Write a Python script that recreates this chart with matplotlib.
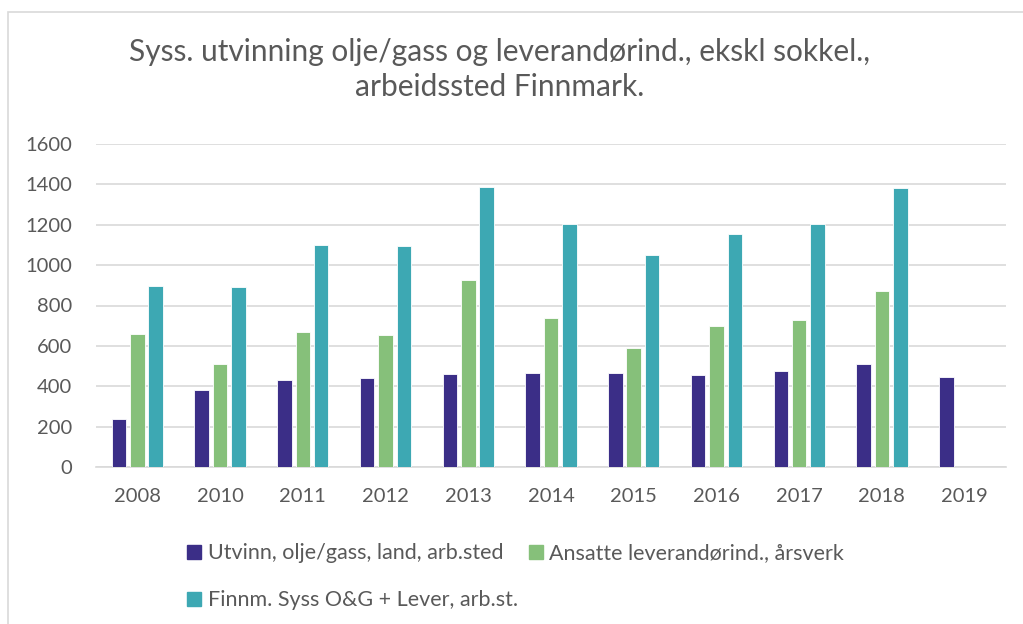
import numpy as np
import matplotlib.pyplot as plt
from matplotlib.patches import Rectangle, Patch

plt.rcParams['font.family'] = ['Lato', 'DejaVu Sans']

years = ['2008', '2010', '2011', '2012', '2013', '2014', '2015', '2016', '2017', '2018', '2019']
utvinn = [238, 380, 431, 443, 463, 468, 464, 458, 478, 509, 448]
ansatte = [658, 511, 668, 655, 926, 737, 587, 696, 727, 873, np.nan]
finnm = [896, 891, 1099, 1096, 1388, 1205, 1051, 1152, 1205, 1380, np.nan]

labels = ['Utvinn, olje/gass, land, arb.sted',
          'Ansatte leverandørind., årsverk',
          'Finnm. Syss O&G + Lever, arb.st.']
colors = ['#3b2e87', '#86c07a', '#3da8b3']

fig = plt.figure(figsize=(10.23, 6.24), dpi=100)
# chart border
fig.patches.append(Rectangle((8 / 1023, -0.05), 1.1, 1 - 12 / 624 + 0.05,
                             transform=fig.transFigure, fill=False,
                             edgecolor='#d9d9d9', linewidth=1.2))

ax = fig.add_axes([96 / 1023, 157 / 624, 910 / 1023, 323 / 624])
x = np.arange(len(years))
w = 0.175
step = 0.222
for i, (vals, c) in enumerate(zip([utvinn, ansatte, finnm], colors)):
    ax.bar(x + (i - 1) * step, vals, width=w, color=c, edgecolor='white',
           linewidth=0.6, zorder=3)

ax.set_xlim(-0.5, len(years) - 0.5)
ax.set_ylim(0, 1600)
ax.set_yticks(range(0, 1601, 200))
ax.set_xticks(x)
ax.set_xticklabels(years)
ax.grid(axis='y', color='#d9d9d9', linewidth=1.2, zorder=0)
for s in ['top', 'right', 'left']:
    ax.spines[s].set_visible(False)
ax.spines['bottom'].set_color('#d9d9d9')
ax.spines['bottom'].set_linewidth(1.2)
ax.tick_params(length=0, labelsize=14.5, colors='#595959')
ax.tick_params(axis='x', pad=15)
ax.tick_params(axis='y', pad=17)

fig.text(0.488, 0.889, 'Syss. utvinning olje/gass og leverandørind., ekskl sokkel.,\narbeidssted Finnmark.',
         ha='center', va='center', fontsize=21.5, color='#595959', linespacing=1.3)

handles = [Patch(color=c) for c in colors]
order = [0, 2, 1]
fig.legend([handles[i] for i in order], [labels[i] for i in order],
           loc='upper left', bbox_to_anchor=(168 / 1023, 1 - 524 / 624),
           ncol=2, frameon=False, fontsize=15.5, labelcolor='#595959',
           handlelength=0.65, handleheight=0.65, handletextpad=0.3,
           columnspacing=0.5, labelspacing=1.25)

fig.savefig('out.png', dpi=100)
